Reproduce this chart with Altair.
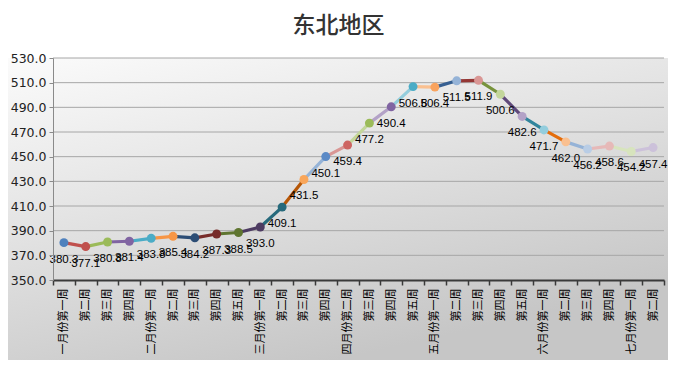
import altair as alt
import pandas as pd

weeks = ["一月份第一周", "第二周", "第三周", "第四周",
         "二月份第一周", "第二周", "第三周", "第四周", "第五周",
         "三月份第一周", "第二周", "第三周", "第四周",
         "四月份第二周", "第三周", "第四周", "第五周",
         "五月份第一周", "第二周", "第三周", "第四周", "第五周",
         "六月份第一周", "第二周", "第三周", "第四周",
         "七月份第一周", "第二周"]

values = [380.3, 377.1, 380.8, 381.4, 383.8, 385.4, 384.2, 387.3, 388.5, 393.0,
          409.1, 431.5, 450.1, 459.4, 477.2, 490.4, 506.8, 506.4, 511.5, 511.9,
          500.6, 482.6, 471.7, 462.0, 456.2, 458.6, 454.2, 457.4]

marker_colors = ["#4F81BD", "#C0504D", "#9BBB59", "#8064A2", "#4BACC6", "#F79646",
                 "#2C4D75", "#772C2A", "#5F7530", "#4D3B62", "#276A7C", "#F9A65A",
                 "#5B8AC6", "#CD6461", "#9BBB59", "#8064A2", "#4BACC6", "#F9A35E",
                 "#95B3D7", "#D99694", "#C3D69B", "#B3A2C7", "#93CDDD", "#FAC090",
                 "#B9CDE5", "#E6B9B8", "#D7E4BD", "#CCC1DA"]

segment_colors = ["#C0504D", "#9BBB59", "#8064A2", "#4BACC6", "#F79646",
                  "#2C4D75", "#772C2A", "#5F7530", "#4D3B62", "#276A7C", "#B65708",
                  "#95B3D7", "#D99694", "#C3D69B", "#B3A2C7", "#93CDDD", "#FAC090",
                  "#365F91", "#953735", "#77933C", "#5F497A", "#31859C", "#E46C0A",
                  "#95B3D7", "#E6B9B8", "#D7E4BD", "#CCC1DA"]

y_ticks = [350, 370, 390, 410, 430, 450, 470, 490, 510, 530]

n = len(values)
pts = pd.DataFrame({"idx": list(range(n)), "value": values, "week": weeks})
seg_rows = []
for i in range(1, n):
    seg_rows.append({"seg": i, "idx": i - 1, "value": values[i - 1]})
    seg_rows.append({"seg": i, "idx": i, "value": values[i]})
segs = pd.DataFrame(seg_rows)
grid = pd.DataFrame({"value": y_ticks[1:]})

W, H = 611, 222
label_expr = "[" + ",".join("'" + w + "'" for w in weeks) + "][datum.value]"

xscale = alt.Scale(type="band", domain=list(range(n)), paddingInner=0, paddingOuter=0)
yscale = alt.Scale(domain=[350, 530], nice=False, zero=False)

x_enc = alt.X("idx:O", scale=xscale,
              axis=alt.Axis(title=None, labelExpr=label_expr, labelAngle=-90,
                            tickBand="extent", labelFont="Noto Sans CJK SC",
                            labelFontSize=11, labelColor="#000000", labelPadding=3,
                            labelOverlap=False,
                            domainColor="#3a3a3a", domainWidth=2, tickColor="#3a3a3a",
                            tickWidth=1.5, tickSize=5, grid=False, zindex=1))
y_enc = alt.Y("value:Q", scale=yscale,
              axis=alt.Axis(title=None, values=y_ticks, format=".1f", grid=False,
                            labelOverlap=False,
                            labelFont="DejaVu Sans", labelFontSize=12.5, labelColor="#222222",
                            labelPadding=3, domainColor="#8a8a8a", tickColor="#8a8a8a",
                            tickSize=4, zindex=1))

bg = alt.Chart(pd.DataFrame({"a": [0]})).mark_rect(
    fill=alt.Gradient(gradient="linear",
                      stops=[alt.GradientStop(color="#fbfbfb", offset=0),
                             alt.GradientStop(color="#e4e4e4", offset=0.45),
                             alt.GradientStop(color="#c6c6c6", offset=1)],
                      x1=0, y1=0, x2=0.5, y2=1)
).encode(x=alt.value(-45), x2=alt.value(W + 4), y=alt.value(0), y2=alt.value(H + 80))

grid_layer = alt.Chart(grid).mark_rule(color="#a6a6a6", strokeWidth=1).encode(y=y_enc)

lines = alt.Chart(segs).mark_line(strokeWidth=3.2, strokeCap="round").encode(
    x=x_enc, y=y_enc,
    color=alt.Color("seg:N", scale=alt.Scale(domain=list(range(1, n)), range=segment_colors),
                    legend=None),
    detail="seg:N")

points = alt.Chart(pts).mark_point(filled=True, size=80, opacity=1).encode(
    x=x_enc, y=y_enc,
    fill=alt.Fill("idx:N", scale=alt.Scale(domain=list(range(n)), range=marker_colors),
                  legend=None))

texts = alt.Chart(pts).mark_text(font="Liberation Sans", fontSize=11.5, color="#000000",
                                 dy=17, align="center", baseline="middle").encode(
    x=x_enc, y=y_enc,
    text=alt.Text("value:Q", format=".1f"))

chart = alt.layer(bg, grid_layer, lines, points, texts).resolve_scale(
    color="independent", fill="independent"
).properties(
    width=W, height=H,
    title=alt.TitleParams("东北地区", font="Noto Sans CJK SC", fontSize=23,
                          fontWeight=500, color="#333333", anchor="middle",
                          dx=-20, offset=14),
    autosize=alt.AutoSizeParams(type="none"),
    padding={"left": 45, "top": 50, "right": 4, "bottom": 80}
).configure_view(stroke=None)

chart.save("out.html", embed_options={"renderer": "svg", "actions": False})
